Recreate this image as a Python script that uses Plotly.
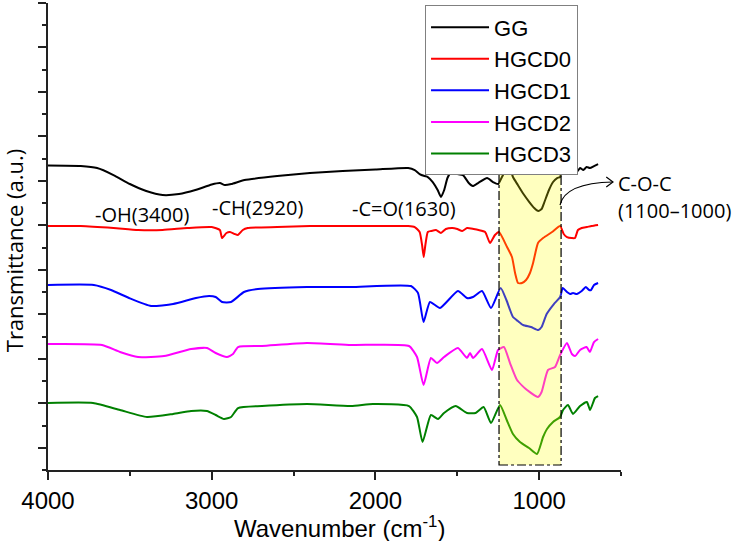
import plotly.graph_objects as go

# ---------------- data (arbitrary transmittance units, offset per sample) ----------------
wn_gg = [4000,3800,3700,3600,3500,3400,3300,3200,3100,3000,2950,2920,2880,2800,2600,2400,2200,2000,1800,1760,
         1730,1700,1680,1650,1620,1600,1580,1560,1540,1500,1465,1430,1405,1373,1318,1282,1250,1230,1196,1175,
         1160,1130,1100,1060,1030,1005,985,970,940,915,890,872,860,845,830,810,790,770,750,730,710,690,665,640]
t_gg = [304.5,304,302,295,286,279,275,276,280,285.5,287,285,286,290,294,297,299,300.5,302,300,
        296,294,293,288,280,273,280,292,297,296,295,287,284,287,292,288,286,292,302,300,
        293,285,277,268,262,259,261,267,280,288,292,293,300,302,299,298,301,298,302,300,303,302,304,306]

wn_h0 = [4000,3800,3600,3450,3300,3150,3000,2950,2937,2910,2888,2860,2840,2810,2780,2600,2400,2200,2000,1800,
         1760,1730,1715,1705,1695,1680,1660,1630,1600,1570,1530,1500,1470,1440,1400,1370,1330,1300,1270,1245,
         1196,1166,1147,1129,1105,1080,1056,1037,1007,976,921,872,850,830,800,781,763,740,708,680,640]
t_h0 = [244,244,242,240,240,242,243,240,232,237,238,236,235,240,242,243,244,244,244,244,
        243,238,225,213,225,238,239,240,237,241,242,241,239,242,241,240,238,227,235,238,
        223,213,197,187,187,190,197,207,227,232,238,244,236,233,232,232,240,242,243,244,245]

wn_h1 = [4000,3720,3615,3505,3370,3236,3096,3016,2976,2937,2882,2803,2718,2418,2149,1783,1740,1706,1667,1606,
         1496,1441,1404,1349,1294,1235,1200,1160,1130,1098,1050,1005,985,954,910,872,856,830,811,793,
         770,740,715,695,683,665,640]
t_h1 = [185,185,180,172,164,166,172,174,173,168,168,178,181,183,183,184,177,148,168,162,
        179,172,173,179,162,182,170,153,149,145,143,140,143,156,166,173,182,178,176,177,
        176,179,183,180,180,185,187]

wn_h2 = [4000,3670,3560,3450,3291,3126,3029,2976,2907,2870,2839,2693,2418,2149,1795,1746,1706,1661,1624,1581,
         1496,1441,1422,1404,1349,1288,1251,1215,1178,1135,1074,1007,985,946,903,872,830,800,780,750,
         710,690,665,640]
t_h2 = [126,125,118,113,114,121,122,117,113,116,123,124,127,125,124,113,85,112,107,113,
        122,112,117,112,121,100,120,123,107,90,80,73,78,100,103,115,127,116,114,120,
        123,118,128,131]

wn_h3 = [4000,3725,3560,3395,3236,3126,3029,2976,2925,2882,2839,2693,2418,2149,2015,1795,1746,1712,1661,1618,
         1581,1510,1441,1388,1339,1294,1239,1198,1160,1117,1062,1013,976,952,915,872,854,824,793,750,
         708,689,659,640]
t_h3 = [67,67,60,53,56,59,59,55,51,53,62,64,66,64,66,64,53,28,55,51,
        57,64,57,57,63,47,65,50,36,28,22,16,33,41,48,53,60,65,56,64,
        68,60,72,74]

names = ["GG", "HGCD0", "HGCD1", "HGCD2", "HGCD3"]
colors = ["#000000", "#ff0000", "#0000ff", "#ff00ff", "#008000"]
series = [(wn_gg, t_gg), (wn_h0, t_h0), (wn_h1, t_h1), (wn_h2, t_h2), (wn_h3, t_h3)]

x_ticks = [4000, 3000, 2000, 1000]
x_tick_labels = ["4000", "3000", "2000", "1000"]
band_labels = [("-OH(3400)", 3426, 256), ("-CH(2920)", 2723, 263), ("-C=O(1630)", 1825, 262)]

fig = go.Figure()
for (x, y), n, c in zip(series, names, colors):
    fig.add_trace(go.Scatter(x=x, y=y, name=n, mode="lines",
                             line=dict(color=c, width=2, shape="spline", smoothing=0.5)))

# highlighted C-O-C region
fig.add_shape(type="rect", xref="x", yref="y", x0=1245, x1=866, y0=5, y1=305,
              fillcolor="rgba(255,255,0,0.25)", line=dict(color="black", width=1.2, dash="dashdot"),
              layer="above")
# curved arrow
fig.add_shape(type="path", xref="x", yref="y", path="M 872.5,265 Q 842,287 549,288",
              line=dict(color="black", width=1.2))
fig.add_shape(type="path", xref="x", yref="y", path="M 590,293 L 549,288 L 590,283",
              line=dict(color="black", width=1.2))

ann_font = dict(family="Open Sans", size=20, color="black")
for txt, xx, yy in band_labels:
    fig.add_annotation(x=xx, y=yy, xref="x", yref="y", text=txt, showarrow=False,
                       font=ann_font, xanchor="center", yanchor="middle")
fig.add_annotation(x=530, y=287, xref="x", yref="y", text="C-O-C", showarrow=False,
                   font=ann_font, xanchor="left", yanchor="middle")
fig.add_annotation(x=530, y=260, xref="x", yref="y", text="(1100–1000)", showarrow=False,
                   font=ann_font, xanchor="left", yanchor="middle")

# axis titles as annotations for precise placement
fig.add_annotation(x=-0.059, y=0.471, xref="paper", yref="paper", text="Transmittance (a.u.)",
                   textangle=-90, showarrow=False, xanchor="center", yanchor="middle",
                   font=dict(family="Open Sans", size=22, color="black"))
fig.add_annotation(x=0.508, y=-0.122, xref="paper", yref="paper",
                   text="Wavenumber (cm<sup>-1</sup>)", showarrow=False,
                   xanchor="center", yanchor="middle",
                   font=dict(family="Arial, Liberation Sans", size=24, color="black"))

fig.update_xaxes(range=[4000, 500], showline=True, linecolor="#222", linewidth=1.5,
                 showgrid=False, zeroline=False, ticks="outside", ticklen=8, tickwidth=1.5,
                 tickcolor="#222", tickvals=x_ticks, ticktext=x_tick_labels,
                 tickfont=dict(family="Arial, Liberation Sans", size=24, color="black"),
                 minor=dict(tickvals=[3500, 2500, 1500, 500], ticks="outside", ticklen=4,
                            tickwidth=1.5, tickcolor="#222"))
fig.update_yaxes(range=[0, 467.04], showline=True, linecolor="#222", linewidth=1.5,
                 showgrid=False, zeroline=False, ticks="outside", ticklen=8, tickwidth=1.5,
                 tickcolor="#222", tick0=22.24, dtick=44.48, showticklabels=False,
                 minor=dict(tick0=0, dtick=44.48, ticks="outside", ticklen=4,
                            tickwidth=1.5, tickcolor="#222"))

fig.update_layout(width=736, height=541, margin=dict(l=48, r=115, t=3, b=71),
                  paper_bgcolor="white", plot_bgcolor="white", showlegend=True,
                  legend=dict(x=0.658, y=0.995, xanchor="left", yanchor="top",
                              bordercolor="#808080", borderwidth=1, bgcolor="white",
                              font=dict(family="Arial, Liberation Sans", size=22, color="black"),
                              itemwidth=58, tracegroupgap=0))

fig.write_html("out.html")
